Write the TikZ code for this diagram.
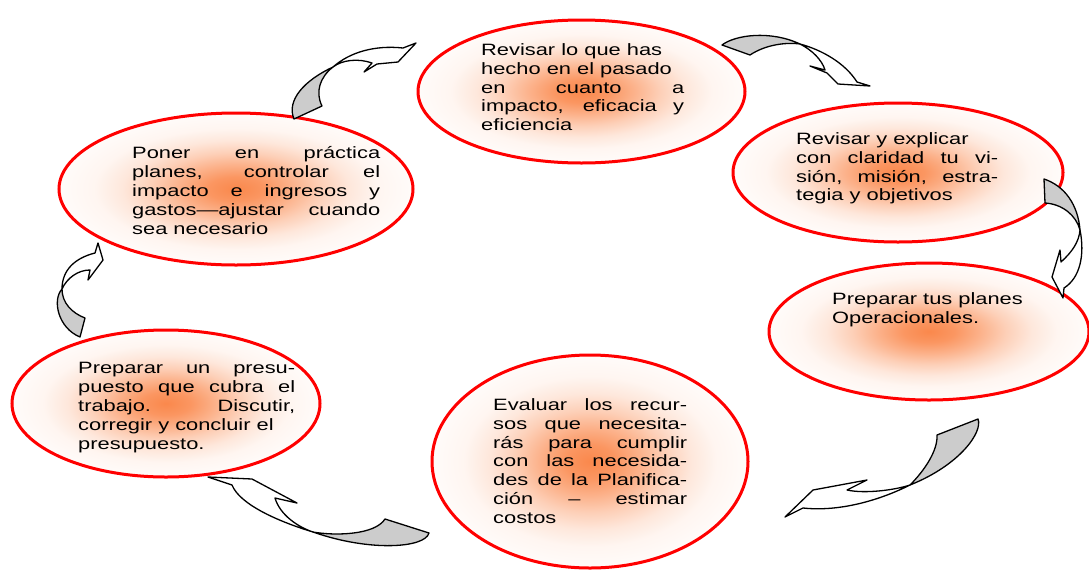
\documentclass[tikz,border=0pt]{standalone}
\usepackage{fontspec}
\setmainfont[FakeStretch=1.332]{Liberation Sans}
\usetikzlibrary{shapes.geometric}
\definecolor{cen}{RGB}{250,136,76}
\definecolor{ared}{RGB}{255,0,0}
\definecolor{agray}{RGB}{204,204,204}
\pgfdeclareradialshading{glow}{\pgfpoint{0bp}{0bp}}{color(0bp)=(cen); color(4bp)=(cen!88!white); color(8bp)=(cen!65!white); color(12bp)=(cen!40!white); color(16bp)=(cen!20!white); color(20bp)=(cen!8!white); color(25bp)=(cen!3!white); color(50bp)=(white)}
\newcommand{\jl}[1]{\makebox[\hsize][s]{\spaceskip=0pt\xspaceskip=0pt #1}}
\newcommand{\fs}{\spaceskip=0pt\xspaceskip=0pt\rule{0pt}{14pt}}
\begin{document}
\begin{tikzpicture}[x=1pt,y=-1pt,
  ell/.style={ellipse, draw=ared, line width=3pt, shade, shading=glow, inner sep=0pt},
  txt/.style={inner sep=0pt, anchor=north west, align=left, font=\fontsize{16.4}{18.9}\selectfont},
  arrowline/.style={draw=black, line width=1.3pt, line join=round},
  backpart/.style={arrowline, fill=agray},
  frontpart/.style={arrowline, fill=white}]
\useasboundingbox (0,0) rectangle (1089,571);
% ellipses
\node[ell, minimum width=327pt, minimum height=143pt] (e1) at (581.5,91.5) {};
\node[ell, minimum width=330pt, minimum height=139pt] (e2) at (898,172.5) {};
\node[ell, minimum width=320pt, minimum height=137pt] (e3) at (929,331.5) {};
\node[ell, minimum width=316pt, minimum height=213pt] (e4) at (590,461.5) {};
\node[ell, minimum width=308pt, minimum height=147pt] (e5) at (166,403.5) {};
\node[ell, minimum width=354pt, minimum height=152pt] (e6) at (236,189) {};
% texts
\node[txt, text width=203pt] (t1) at (481,41) {\fs Revisar lo que has\\hecho en el pasado\\\jl{en cuanto a}\\\jl{impacto, eficacia y}\\eficiencia};
\node[txt, text width=202pt] (t2) at (796,130) {\fs Revisar y explicar\\\jl{con claridad tu vi-}\\\jl{sión, misión, estra-}\\tegia y objetivos};
\node[txt, text width=200pt] (t3) at (832,290) {\fs Preparar tus planes\\Operacionales.};
\node[txt, text width=194pt] (t4) at (493,396) {\fs\jl{Evaluar los recur-}\\\jl{sos que necesita-}\\\jl{rás para cumplir}\\\jl{con las necesida-}\\\jl{des de la Planifica-}\\\jl{ción – estimar}\\costos};
\node[txt, text width=217pt] (t5) at (78,359.3) {\fs\jl{Preparar un presu-}\\\jl{puesto que cubra el}\\\jl{trabajo. Discutir,}\\corregir y concluir el\\presupuesto.};
\node[txt, text width=248pt] (t6) at (132,144.3) {\fs\jl{Poner en práctica}\\\jl{planes, controlar el}\\\jl{impacto e ingresos y}\\\jl{gastos—ajustar cuando}\\sea necesario};
% curved arrows
% A: e6 -> e1
\path[backpart] (294,119) .. controls (286,100) and (305,80) .. (333,67) .. controls (320,77) and (315,92) .. (322,106) -- cycle;
\path[frontpart] (333,67) .. controls (350,52) and (375,45) .. (403,48) -- (416,43) -- (398,62) -- (377,64) -- (364,72) -- (372,63) .. controls (358,58) and (342,60) .. (333,67) -- cycle;
% B: e1 -> e2
\path[backpart] (722,45) .. controls (735,35) and (770,30) .. (800,44) .. controls (785,42) and (765,45) .. (750,55) -- cycle;
\path[frontpart] (800,44) .. controls (822,50) and (845,63) .. (857,82) -- (870,86) -- (838,84) -- (827,73) -- (810,66) -- (825,70) .. controls (822,60) and (812,50) .. (800,44) -- cycle;
% C: e2 -> e3
\path[backpart] (1044,179) .. controls (1065,186) and (1078,205) .. (1080,230) .. controls (1076,215) and (1062,204) .. (1045,203) -- cycle;
\path[frontpart] (1080,230) .. controls (1085,255) and (1080,278) .. (1064,288) -- (1063,298) -- (1052,277) -- (1060,250) -- (1061,262) .. controls (1072,252) and (1079,242) .. (1080,230) -- cycle;
% D: e3 -> e4
\path[backpart] (937,435) -- (978,419) .. controls (983,432) and (960,465) .. (910,485) .. controls (925,470) and (938,450) .. (937,435) -- cycle;
\path[frontpart] (910,485) .. controls (880,500) and (840,512) .. (803,508) -- (785,517) -- (813,490) -- (867,480) -- (847,490) .. controls (865,494) and (895,490) .. (910,485) -- cycle;
% E: e4 -> e5
\path[backpart] (385,519) -- (429,533) .. controls (425,548) and (370,552) .. (313,532) .. controls (335,536) and (375,535) .. (385,519) -- cycle;
\path[frontpart] (313,532) .. controls (280,522) and (240,505) .. (232,485) -- (208,477) -- (252,479) -- (297,503) -- (275,498) .. controls (280,515) and (298,527) .. (313,532) -- cycle;
% F: e5 -> e6
\path[backpart] (80,337) -- (85,318) .. controls (72,313) and (62,303) .. (62,289) .. controls (52,300) and (58,328) .. (80,337) -- cycle;
\path[frontpart] (62,289) .. controls (62,270) and (75,258) .. (95,253) -- (98,243) -- (103,260) -- (88,280) -- (90,270) .. controls (78,270) and (67,278) .. (62,289) -- cycle;
\end{tikzpicture}
\end{document}
